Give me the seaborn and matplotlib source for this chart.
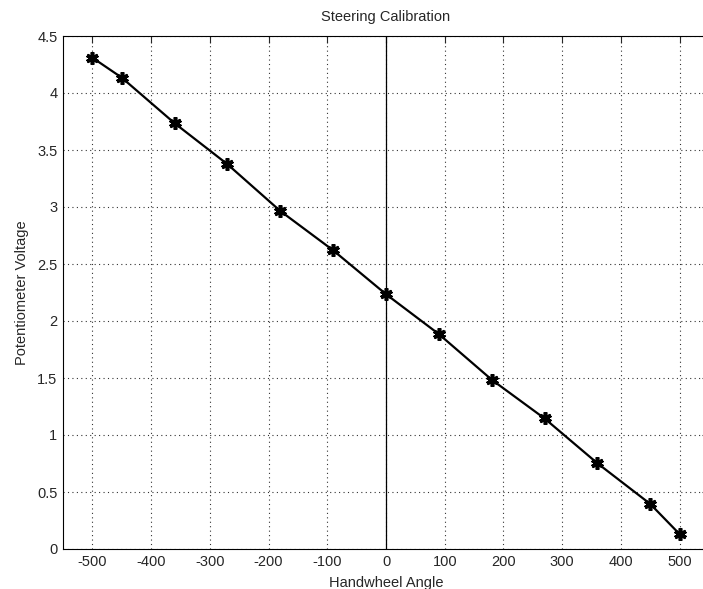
import matplotlib
matplotlib.use("Agg")
import matplotlib.pyplot as plt
import seaborn as sns
import pandas as pd

angles = [-500, -450, -360, -270, -180, -90, 0, 90, 180, 270, 360, 450, 500]
voltages = [4.31, 4.135, 3.735, 3.375, 2.965, 2.62, 2.235, 1.885, 1.485, 1.145, 0.752, 0.395, 0.13]
xticks = [-500, -400, -300, -200, -100, 0, 100, 200, 300, 400, 500]
yticks = [0, 0.5, 1, 1.5, 2, 2.5, 3, 3.5, 4, 4.5]

sns.set_style("white")
plt.rcParams['font.family'] = ['Liberation Sans', 'DejaVu Sans']
plt.rcParams['xtick.direction'] = 'in'
plt.rcParams['ytick.direction'] = 'in'

df = pd.DataFrame({"angle": angles, "voltage": voltages})

fig = plt.figure(figsize=(7.03, 5.89), dpi=100)
ax = fig.add_axes([63/703, 40/589, 646/703, 513/589])

ax.axvline(0, color='black', lw=0.9, zorder=1)
sns.lineplot(data=df, x="angle", y="voltage", ax=ax, color='black', lw=1.6,
             marker=(6, 2, 0), markersize=9, markeredgewidth=2.6,
             markeredgecolor='black', markerfacecolor='black', zorder=3)

ax.set_xlim(-550, 550)
ax.set_ylim(0, 4.5)
ax.set_xticks(xticks)
ax.set_yticks(yticks)
ax.set_xticklabels([str(t) for t in xticks])
ax.set_yticklabels([("%g" % t) for t in yticks])
ax.grid(True, linestyle=(0, (1, 3)), color='black', lw=0.8, alpha=0.8)
ax.tick_params(axis='both', labelsize=10.5, length=5, width=0.8, top=True, right=True, pad=4)
for s in ax.spines.values():
    s.set_color('black')
    s.set_linewidth(0.8)

ax.set_title("Steering Calibration", fontsize=10.5, pad=11)
ax.set_xlabel("Handwheel Angle", fontsize=10.5, labelpad=5)
ax.set_ylabel("Potentiometer Voltage", fontsize=10.5, labelpad=6)

fig.savefig("out.png", dpi=100)
